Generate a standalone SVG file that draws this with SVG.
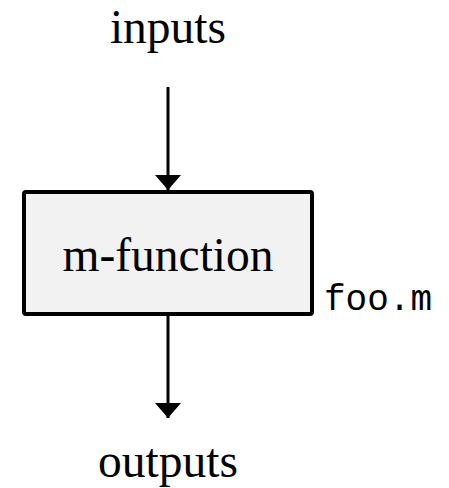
<svg xmlns="http://www.w3.org/2000/svg" width="449" height="488" viewBox="0 0 449 488">
<style>
.lbl{font-family:"Liberation Serif","Times New Roman",serif;font-size:47.5px;fill:#000;text-anchor:middle}
.mono{font-family:"Liberation Mono","Courier New",monospace;font-size:36px;fill:#000}
.conn{stroke:#000;stroke-width:3;fill:none}
</style>
<defs>
<marker id="ah" markerUnits="userSpaceOnUse" markerWidth="15" markerHeight="26" refX="15" refY="13" orient="auto">
<path d="M0,0 L15,13 L0,26 Z" fill="#000"/>
</marker>
</defs>
<rect width="449" height="488" fill="#fff"/>
<g id="inputs"><text class="lbl" x="168" y="42.7">inputs</text></g>
<g id="mfunction">
<rect x="24" y="192" width="288" height="122" rx="2" fill="#f2f2f2" stroke="#000" stroke-width="4"/>
<text class="lbl" x="168" y="270.5">m-function</text>
<text class="mono" x="324" y="310">foo.m</text>
</g>
<g id="outputs"><text class="lbl" x="168" y="476.5">outputs</text></g>
<g id="connectors">
<line class="conn" x1="168" y1="87" x2="168" y2="190" marker-end="url(#ah)"/>
<line class="conn" x1="168" y1="316" x2="168" y2="418" marker-end="url(#ah)"/>
</g>
</svg>
